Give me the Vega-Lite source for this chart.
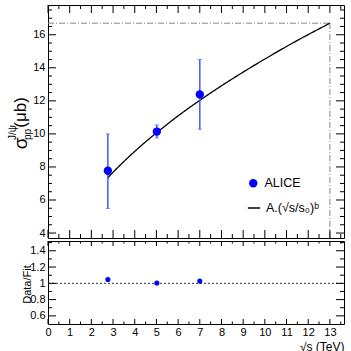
{
  "$schema": "https://vega.github.io/schema/vega-lite/v6.json",
  "padding": {"left": 6, "top": 4, "right": 6, "bottom": 0},
  "spacing": 1,
  "config": {
    "font": "Liberation Sans",
    "view": {"stroke": "black", "strokeWidth": 1},
    "axis": {"domain": false, "grid": false, "ticks": false, "labelFont": "Liberation Sans", "labelFontSize": 11, "labelColor": "black", "titleFont": "Liberation Sans", "titleFontWeight": "normal", "titleColor": "black", "labelFlush": false, "labelOverlap": false}
  },
  "datasets": {
    "pts": [
      {"x": 2.76, "y": 7.77, "lo": 5.49, "hi": 10.0, "series": "ALICE"},
      {"x": 5.02, "y": 10.14, "lo": 9.76, "hi": 10.54, "series": "ALICE"},
      {"x": 7.0, "y": 12.39, "lo": 10.28, "hi": 14.5, "series": "ALICE"}
    ],
    "fit": [
      {"x": 2.76, "y": 7.35, "series": "A.(√s/s₀)ᵇ"}, {"x": 3, "y": 7.68, "series": "A.(√s/s₀)ᵇ"}, {"x": 3.5, "y": 8.33, "series": "A.(√s/s₀)ᵇ"}, {"x": 4, "y": 8.94, "series": "A.(√s/s₀)ᵇ"},
      {"x": 4.5, "y": 9.52, "series": "A.(√s/s₀)ᵇ"}, {"x": 5, "y": 10.06, "series": "A.(√s/s₀)ᵇ"}, {"x": 6, "y": 11.09, "series": "A.(√s/s₀)ᵇ"}, {"x": 7, "y": 12.03, "series": "A.(√s/s₀)ᵇ"},
      {"x": 8, "y": 12.91, "series": "A.(√s/s₀)ᵇ"}, {"x": 9, "y": 13.74, "series": "A.(√s/s₀)ᵇ"}, {"x": 10, "y": 14.53, "series": "A.(√s/s₀)ᵇ"}, {"x": 11, "y": 15.29, "series": "A.(√s/s₀)ᵇ"},
      {"x": 12, "y": 16.01, "series": "A.(√s/s₀)ᵇ"}, {"x": 13, "y": 16.7, "series": "A.(√s/s₀)ᵇ"}
    ],
    "href": [{"x0": 0, "x1": 13, "y": 16.7}],
    "vref": [{"x": 13, "y0": 3.7, "y1": 16.7}],
    "ratio": [
      {"x": 2.76, "r": 1.047},
      {"x": 5.02, "r": 1.003},
      {"x": 7.0, "r": 1.027}
    ],
    "one": [{"x0": 0, "x1": 13.65, "y": 1}],
    "xmaj": [{"v": 0}, {"v": 1}, {"v": 2}, {"v": 3}, {"v": 4}, {"v": 5}, {"v": 6}, {"v": 7}, {"v": 8}, {"v": 9}, {"v": 10}, {"v": 11}, {"v": 12}, {"v": 13}],
    "xmin": [{"v": 0.5}, {"v": 1.5}, {"v": 2.5}, {"v": 3.5}, {"v": 4.5}, {"v": 5.5}, {"v": 6.5}, {"v": 7.5}, {"v": 8.5}, {"v": 9.5}, {"v": 10.5}, {"v": 11.5}, {"v": 12.5}, {"v": 13.5}],
    "ymajTop": [{"v": 4}, {"v": 6}, {"v": 8}, {"v": 10}, {"v": 12}, {"v": 14}, {"v": 16}],
    "yminTop": [{"v": 4.5}, {"v": 5}, {"v": 5.5}, {"v": 6.5}, {"v": 7}, {"v": 7.5}, {"v": 8.5}, {"v": 9}, {"v": 9.5}, {"v": 10.5}, {"v": 11}, {"v": 11.5}, {"v": 12.5}, {"v": 13}, {"v": 13.5}, {"v": 14.5}, {"v": 15}, {"v": 15.5}, {"v": 16.5}, {"v": 17}, {"v": 17.5}],
    "ymajBot": [{"v": 0.6}, {"v": 0.8}, {"v": 1.0}, {"v": 1.2}, {"v": 1.4}],
    "yminBot": [{"v": 0.7}, {"v": 0.9}, {"v": 1.1}, {"v": 1.3}, {"v": 1.5}]
  },
  "vconcat": [
    {
      "width": 296,
      "height": 233,
      "resolve": {"axis": {"x": "independent", "y": "independent"}, "legend": {"color": "independent", "strokeDash": "independent"}},
      "layer": [
        {
          "data": {"name": "href"},
          "mark": {"type": "rule", "color": "#888888", "strokeDash": [6, 2, 1, 2], "strokeWidth": 1},
          "encoding": {
            "x": {"field": "x0", "type": "quantitative", "scale": {"domain": [0, 13.65], "nice": false, "zero": false}, "axis": null},
            "x2": {"field": "x1"},
            "y": {"field": "y", "type": "quantitative", "scale": {"domain": [3.7, 17.8], "nice": false, "zero": false},
              "axis": {"orient": "left", "values": [4,6,8,10,12,14,16], "format": "d", "ticks": false, "labelPadding": 3,
                "title": "σ", "titleFontSize": 19, "titleX": -28, "titleY": 138, "titleAngle": 270, "titleAlign": "center", "titleBaseline": "middle"}}
          }
        },
        {
          "data": {"name": "vref"},
          "mark": {"type": "rule", "color": "#888888", "strokeDash": [6, 2, 1, 2], "strokeWidth": 1},
          "encoding": {
            "x": {"field": "x", "type": "quantitative", "scale": {"domain": [0, 13.65], "nice": false, "zero": false}, "axis": null},
            "y": {"field": "y0", "type": "quantitative", "scale": {"domain": [3.7, 17.8], "nice": false, "zero": false},
              "axis": {"orient": "left", "values": [4,6,8,10,12,14,16], "labels": false, "ticks": false, "offset": -8,
                "title": "(μb)", "titleFontSize": 17, "titleX": -36, "titleY": 107, "titleAngle": 270, "titleAlign": "center", "titleBaseline": "middle"}},
            "y2": {"field": "y1"}
          }
        },
        {
          "data": {"name": "fit"},
          "mark": {"type": "line", "color": "black", "strokeWidth": 1.3, "interpolate": "monotone"},
          "encoding": {
            "x": {"field": "x", "type": "quantitative", "scale": {"domain": [0, 13.65], "nice": false, "zero": false}, "axis": null},
            "y": {"field": "y", "type": "quantitative", "scale": {"domain": [3.7, 17.8], "nice": false, "zero": false},
              "axis": {"orient": "left", "values": [4,6,8,10,12,14,16], "labels": false, "ticks": false, "offset": -4,
                "title": "J/ψ", "titleFontSize": 10, "titleX": -40, "titleY": 127, "titleAngle": 270, "titleAlign": "center", "titleBaseline": "middle"}},
            "strokeDash": {"field": "series", "type": "nominal",
              "scale": {"domain": ["A.(√s/s₀)ᵇ"], "range": [[1, 0]]},
              "legend": {"title": null, "orient": "none", "legendX": 199, "legendY": 196, "padding": 0,
                "labelFontSize": 12.5, "labelFont": "Liberation Sans", "labelColor": "black", "labelOffset": 5,
                "symbolType": "stroke", "symbolSize": 150, "symbolStrokeColor": "black", "symbolStrokeWidth": 1.3}}
          }
        },
        {
          "data": {"name": "pts"},
          "mark": {"type": "rule", "color": "#4455ff", "strokeWidth": 1.5},
          "encoding": {
            "x": {"field": "x", "type": "quantitative", "scale": {"domain": [0, 13.65], "nice": false, "zero": false}, "axis": null},
            "y": {"field": "lo", "type": "quantitative", "scale": {"domain": [3.7, 17.8], "nice": false, "zero": false},
              "axis": {"orient": "right", "values": [4,6,8,10,12,14,16], "labels": false, "ticks": false, "offset": -8,
                "title": "pp", "titleFontSize": 10, "titleX": -309, "titleY": 129, "titleAngle": 270, "titleAlign": "center", "titleBaseline": "middle"}},
            "y2": {"field": "hi"}
          }
        },
        {
          "data": {"name": "pts"},
          "mark": {"type": "tick", "orient": "horizontal", "color": "#4455ff", "size": 4, "thickness": 1},
          "encoding": {
            "x": {"field": "x", "type": "quantitative", "axis": null},
            "y": {"field": "lo", "type": "quantitative", "axis": null}
          }
        },
        {
          "data": {"name": "pts"},
          "mark": {"type": "tick", "orient": "horizontal", "color": "#4455ff", "size": 4, "thickness": 1},
          "encoding": {
            "x": {"field": "x", "type": "quantitative", "axis": null},
            "y": {"field": "hi", "type": "quantitative", "axis": null}
          }
        },
        {
          "data": {"name": "pts"},
          "mark": {"type": "point", "filled": true, "opacity": 1, "size": 70, "shape": "circle"},
          "encoding": {
            "x": {"field": "x", "type": "quantitative", "axis": null},
            "y": {"field": "y", "type": "quantitative", "axis": null},
            "color": {"field": "series", "type": "nominal",
              "scale": {"domain": ["ALICE"], "range": ["#0000ff"]},
              "legend": {"title": null, "orient": "none", "legendX": 199, "legendY": 172, "padding": 0,
                "labelFontSize": 12.5, "labelFont": "Liberation Sans", "labelColor": "black", "labelOffset": 5,
                "symbolType": "circle", "symbolSize": 70, "symbolOpacity": 1}}
          }
        },
        {
          "data": {"name": "xmaj"},
          "mark": {"type": "rule", "color": "black", "strokeWidth": 1, "y2Offset": -8},
          "encoding": {"x": {"field": "v", "type": "quantitative", "axis": null}, "y": {"datum": 3.7, "type": "quantitative", "axis": null}, "y2": {"datum": 3.7}}
        },
        {
          "data": {"name": "xmaj"},
          "mark": {"type": "rule", "color": "black", "strokeWidth": 1, "y2Offset": 8},
          "encoding": {"x": {"field": "v", "type": "quantitative", "axis": null}, "y": {"datum": 17.8, "type": "quantitative", "axis": null}, "y2": {"datum": 17.8}}
        },
        {
          "data": {"name": "xmin"},
          "mark": {"type": "rule", "color": "black", "strokeWidth": 1, "y2Offset": -4},
          "encoding": {"x": {"field": "v", "type": "quantitative", "axis": null}, "y": {"datum": 3.7, "type": "quantitative", "axis": null}, "y2": {"datum": 3.7}}
        },
        {
          "data": {"name": "xmin"},
          "mark": {"type": "rule", "color": "black", "strokeWidth": 1, "y2Offset": 4},
          "encoding": {"x": {"field": "v", "type": "quantitative", "axis": null}, "y": {"datum": 17.8, "type": "quantitative", "axis": null}, "y2": {"datum": 17.8}}
        },
        {
          "data": {"name": "ymajTop"},
          "mark": {"type": "rule", "color": "black", "strokeWidth": 1, "x2Offset": 8},
          "encoding": {"y": {"field": "v", "type": "quantitative", "axis": null}, "x": {"datum": 0, "type": "quantitative", "axis": null}, "x2": {"datum": 0}}
        },
        {
          "data": {"name": "ymajTop"},
          "mark": {"type": "rule", "color": "black", "strokeWidth": 1, "x2Offset": -8},
          "encoding": {"y": {"field": "v", "type": "quantitative", "axis": null}, "x": {"datum": 13.65, "type": "quantitative", "axis": null}, "x2": {"datum": 13.65}}
        },
        {
          "data": {"name": "yminTop"},
          "mark": {"type": "rule", "color": "black", "strokeWidth": 1, "x2Offset": 4},
          "encoding": {"y": {"field": "v", "type": "quantitative", "axis": null}, "x": {"datum": 0, "type": "quantitative", "axis": null}, "x2": {"datum": 0}}
        },
        {
          "data": {"name": "yminTop"},
          "mark": {"type": "rule", "color": "black", "strokeWidth": 1, "x2Offset": -4},
          "encoding": {"y": {"field": "v", "type": "quantitative", "axis": null}, "x": {"datum": 13.65, "type": "quantitative", "axis": null}, "x2": {"datum": 13.65}}
        }
      ]
    },
    {
      "width": 296,
      "height": 83,
      "resolve": {"axis": {"x": "independent", "y": "independent"}},
      "layer": [
        {
          "data": {"name": "one"},
          "mark": {"type": "rule", "color": "#333333", "strokeDash": [2, 2], "strokeWidth": 1},
          "encoding": {
            "x": {"field": "x0", "type": "quantitative", "scale": {"domain": [0, 13.65], "nice": false, "zero": false},
              "axis": {"orient": "bottom", "values": [0,1,2,3,4,5,6,7,8,9,10,11,12,13], "format": "d", "ticks": false, "labelPadding": 2,
                "title": "√s (TeV)", "titleFontSize": 12, "titleX": 296, "titleY": 22, "titleAlign": "right", "titleBaseline": "middle"}},
            "x2": {"field": "x1"},
            "y": {"field": "y", "type": "quantitative", "scale": {"domain": [0.5, 1.52], "nice": false, "zero": false},
              "axis": {"orient": "left", "values": [0.6, 0.8, 1, 1.2, 1.4], "format": "~g", "ticks": false, "labelPadding": 3,
                "title": "Data/Fit", "titleFontSize": 11, "titleX": -21, "titleY": 43, "titleAngle": 270, "titleAlign": "center", "titleBaseline": "middle"}}
          }
        },
        {
          "data": {"name": "ratio"},
          "mark": {"type": "point", "filled": true, "opacity": 1, "size": 26, "shape": "circle", "color": "#0000ff"},
          "encoding": {
            "x": {"field": "x", "type": "quantitative", "axis": null},
            "y": {"field": "r", "type": "quantitative", "axis": null}
          }
        },
        {
          "data": {"name": "xmaj"},
          "mark": {"type": "rule", "color": "black", "strokeWidth": 1, "y2Offset": -5},
          "encoding": {"x": {"field": "v", "type": "quantitative", "axis": null}, "y": {"datum": 0.5, "type": "quantitative", "axis": null}, "y2": {"datum": 0.5}}
        },
        {
          "data": {"name": "xmaj"},
          "mark": {"type": "rule", "color": "black", "strokeWidth": 1, "y2Offset": 5},
          "encoding": {"x": {"field": "v", "type": "quantitative", "axis": null}, "y": {"datum": 1.52, "type": "quantitative", "axis": null}, "y2": {"datum": 1.52}}
        },
        {
          "data": {"name": "xmin"},
          "mark": {"type": "rule", "color": "black", "strokeWidth": 1, "y2Offset": -2.5},
          "encoding": {"x": {"field": "v", "type": "quantitative", "axis": null}, "y": {"datum": 0.5, "type": "quantitative", "axis": null}, "y2": {"datum": 0.5}}
        },
        {
          "data": {"name": "xmin"},
          "mark": {"type": "rule", "color": "black", "strokeWidth": 1, "y2Offset": 2.5},
          "encoding": {"x": {"field": "v", "type": "quantitative", "axis": null}, "y": {"datum": 1.52, "type": "quantitative", "axis": null}, "y2": {"datum": 1.52}}
        },
        {
          "data": {"name": "ymajBot"},
          "mark": {"type": "rule", "color": "black", "strokeWidth": 1, "x2Offset": 8},
          "encoding": {"y": {"field": "v", "type": "quantitative", "axis": null}, "x": {"datum": 0, "type": "quantitative", "axis": null}, "x2": {"datum": 0}}
        },
        {
          "data": {"name": "ymajBot"},
          "mark": {"type": "rule", "color": "black", "strokeWidth": 1, "x2Offset": -8},
          "encoding": {"y": {"field": "v", "type": "quantitative", "axis": null}, "x": {"datum": 13.65, "type": "quantitative", "axis": null}, "x2": {"datum": 13.65}}
        },
        {
          "data": {"name": "yminBot"},
          "mark": {"type": "rule", "color": "black", "strokeWidth": 1, "x2Offset": 4},
          "encoding": {"y": {"field": "v", "type": "quantitative", "axis": null}, "x": {"datum": 0, "type": "quantitative", "axis": null}, "x2": {"datum": 0}}
        },
        {
          "data": {"name": "yminBot"},
          "mark": {"type": "rule", "color": "black", "strokeWidth": 1, "x2Offset": -4},
          "encoding": {"y": {"field": "v", "type": "quantitative", "axis": null}, "x": {"datum": 13.65, "type": "quantitative", "axis": null}, "x2": {"datum": 13.65}}
        }
      ]
    }
  ]
}
